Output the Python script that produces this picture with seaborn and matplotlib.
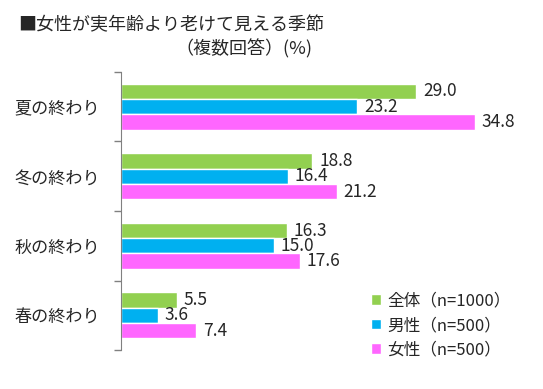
import pandas as pd
import matplotlib.pyplot as plt
import seaborn as sns
from matplotlib.ticker import FixedLocator

# データ
categories = ["夏の終わり", "冬の終わり", "秋の終わり", "春の終わり"]
groups = ["全体（n=1000）", "男性（n=500）", "女性（n=500）"]
zentai = [29.0, 18.8, 16.3, 5.5]
dansei = [23.2, 16.4, 15.0, 3.6]
josei = [34.8, 21.2, 17.6, 7.4]
colors = ["#92D050", "#00B0F0", "#FF66FF"]

rows = []
for g, vals in zip(groups, [zentai, dansei, josei]):
    for c, v in zip(categories, vals):
        rows.append({"season": c, "group": g, "value": v})
df = pd.DataFrame(rows)

sns.set_style("white")
plt.rcParams['font.family'] = ['Noto Sans CJK JP', 'DejaVu Sans']

fig = plt.figure(figsize=(5.43, 3.89), dpi=100)
ax = fig.add_axes([0.223, 0.1, 0.749, 0.715])

sns.barplot(data=df, y="season", x="value", hue="group", order=categories,
            hue_order=groups, palette=colors, width=0.66, saturation=1,
            orient="h", ax=ax)

for cont in ax.containers:
    ax.bar_label(cont, fmt="%.1f", padding=5, fontsize=12.5)

ax.set_xlim(0, 40)
ax.set_ylim(3.5, -0.5)
ax.set_xlabel("")
ax.set_ylabel("")
ax.set_xticks([])
ax.tick_params(axis="y", which="major", left=False, length=0, pad=15, labelsize=12.3)
ax.yaxis.set_minor_locator(FixedLocator([-0.5, 0.5, 1.5, 2.5, 3.5]))
ax.tick_params(axis="y", which="minor", left=True, length=5, color="#808080", width=1)
for s in ["top", "right", "bottom"]:
    ax.spines[s].set_visible(False)
ax.spines["left"].set_color("#808080")

handles, labels = ax.get_legend_handles_labels()
ax.legend(handles, labels, loc="lower left", bbox_to_anchor=(0.655, 0.04),
          bbox_transform=fig.transFigure, frameon=False, fontsize=12,
          handlelength=0.6, handleheight=0.6, handletextpad=0.4,
          labelspacing=0.45)

fig.text(0.033, 0.935, "■女性が実年齢より老けて見える季節", fontsize=13, va="center")
fig.text(0.575, 0.875, "（複数回答）(%)", fontsize=13, va="center", ha="right")

fig.savefig("out.png", dpi=100)
